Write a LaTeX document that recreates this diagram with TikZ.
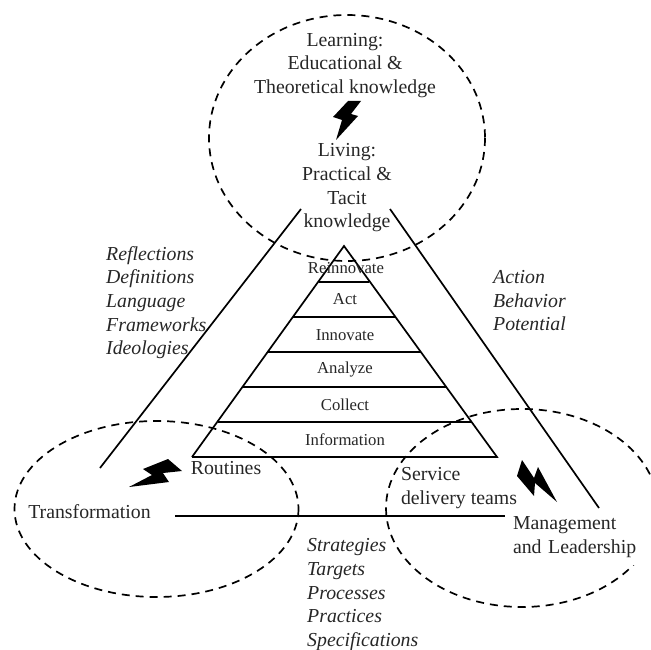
\documentclass[tikz,border=0pt]{standalone}
\usepackage{fontspec}
\setmainfont{Liberation Serif}
\begin{document}
\begin{tikzpicture}[x=1pt,y=-1pt]
	\tikzstyle{circ}=[draw=black,line width=1.7pt,dash pattern=on 8pt off 6pt]
	\tikzstyle{edge}=[draw=black,line width=1.7pt]
	\tikzstyle{bolt}=[fill=black]
	\tikzstyle{lbl}=[inner sep=0pt,text=black!85,font=\fontsize{19.8}{23.7}\selectfont,align=center]
	\tikzstyle{lvl}=[inner sep=0pt,text=black!85,font=\fontsize{16.7}{20}\selectfont]
	\tikzstyle{ital}=[inner sep=0pt,text=black!85,font=\fontsize{19.8}{23.7}\selectfont\itshape,align=left,anchor=north west]
	\useasboundingbox (0,0) rectangle (651,650);
	\draw[circ] (347,138) ellipse [x radius=138,y radius=123];
	\draw[circ] (156.5,509) ellipse [x radius=142,y radius=88];
	\draw[circ] (522,508) ellipse [x radius=136,y radius=99];
	\coordinate (apex) at (344,246);
	\coordinate (bl) at (192,457);
	\coordinate (br) at (497,457);
	\coordinate (l1) at (319,282);
	\coordinate (r1) at (369,282);
	\coordinate (l2) at (293,317);
	\coordinate (r2) at (395,317);
	\coordinate (l3) at (268,352);
	\coordinate (r3) at (421,352);
	\coordinate (l4) at (243,387);
	\coordinate (r4) at (446,387);
	\coordinate (l5) at (218,422);
	\coordinate (r5) at (471,422);
	\coordinate (a1) at (100,468);
	\coordinate (a2) at (301,209);
	\coordinate (b1) at (390,209);
	\coordinate (b2) at (599,508);
	\coordinate (c1) at (175,516);
	\coordinate (c2) at (505,516);
	\draw[edge] (bl) -- (apex) -- (br) -- (bl);
	\draw[edge] (l1) -- (r1);
	\draw[edge] (l2) -- (r2);
	\draw[edge] (l3) -- (r3);
	\draw[edge] (l4) -- (r4);
	\draw[edge] (l5) -- (r5);
	\draw[edge] (a1) -- (a2);
	\draw[edge] (b1) -- (b2);
	\draw[edge] (c1) -- (c2);
	\node[lbl] (learn) at (345,65.5) {Learning:\\Educational \&\\Theoretical knowledge};
	\node[lbl] (live) at (347,188) {Living:\\Practical \&\\Tacit\\knowledge};
	\node[lvl] (reinn) at (346,268) {Reinnovate};
	\node[lvl] (act) at (345,299) {Act};
	\node[lvl] (innov) at (345,335) {Innovate};
	\node[lvl] (analyze) at (345,370) {Analyze};
	\node[lvl] (collect) at (345,405) {Collect};
	\node[lvl] (info) at (345,440) {Information};
	\node[lbl] (routines) at (226,468.5) {Routines};
	\node[lbl,align=left] (service) at (459,488) {Service\\delivery teams};
	\node[lbl] (transf) at (89.5,512) {Transformation};
	\node[lbl,align=left,fill=white,inner xsep=8pt,text width=130pt,minimum height=55pt] (mgmt) at (578,537) {Management\\and Leadership};
	\node[ital] (refl) at (106,246) {Reflections\\Definitions\\Language\\Frameworks\\Ideologies};
	\node[ital] (action) at (493,270) {Action\\Behavior\\Potential};
	\node[ital] (strat) at (307,538.5) {Strategies\\Targets\\Processes\\Practices\\Specifications};
	\fill[bolt] (348,101) -- (361,101) -- (351,114) -- (358,116) -- (336,140) -- (342,120) -- (333,117) -- cycle;
	\fill[bolt] (168,459) -- (182,471) -- (163,473) -- (169,482) -- (129,487) -- (152,475) -- (143,469) -- cycle;
	\fill[bolt] (522,460) -- (534,478) -- (538,467) -- (557,502) -- (535,483) -- (534,496) -- (517,476) -- cycle;
\end{tikzpicture}
\end{document}
